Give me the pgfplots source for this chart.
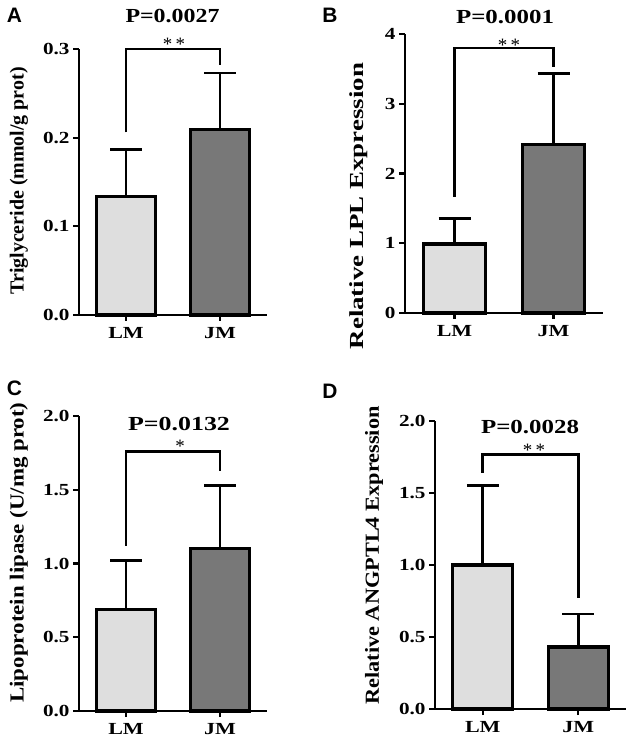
\documentclass[border=0pt]{standalone}
\usepackage{pgfplots}
\pgfplotsset{compat=1.18}
\usepackage{fontspec}
\usepackage{graphicx}
\setmainfont{Liberation Serif}
\newfontfamily\sansfont{Liberation Sans}
\definecolor{lightbar}{RGB}{222,222,222}
\definecolor{darkbar}{RGB}{120,120,120}

\pgfplotsset{
  panel/.style={
    scale only axis,
    axis lines*=left,
    axis line style={line width=2.2bp},
    xmin=-0.5, xmax=1.5, ymin=0,
    xtick={0,1},
    xticklabels={\scalebox{1.3}[1]{LM},\scalebox{1.3}[1]{JM}},
    tick align=outside,
    major tick length=6bp,
    every tick/.style={line width=2.2bp, black},
    ticklabel style={font=\fontsize{17}{17}\selectfont\bfseries},
    xticklabel style={yshift=-3bp},
    /pgf/number format/assume math mode=true,
    yticklabel={\scalebox{1.25}[1]{\pgfmathprintnumber{\tick}}},
    ylabel style={font=\fontsize{20}{20}\selectfont\bfseries, anchor=center},
    clip=false,
  },
  lmbar/.style={ybar, bar width=0.63, fill=lightbar, draw=black, line width=3.3bp,
    error bars/.cd, y dir=plus, y explicit, error mark=-,
    error bar style={line width=2.8bp, black},
    error mark options={rotate=90, line width=2.8bp, mark size=16bp, black}},
  jmbar/.style={ybar, bar width=0.63, fill=darkbar, draw=black, line width=3.3bp,
    error bars/.cd, y dir=plus, y explicit, error mark=-,
    error bar style={line width=2.8bp, black},
    error mark options={rotate=90, line width=2.8bp, mark size=16bp, black}},
  bracket/.style={black, line width=2.8bp, no markers, line join=miter},
}

\begin{document}
\begin{tikzpicture}
\useasboundingbox (0bp,0bp) rectangle (630bp,742bp);

% Panel A
\begin{axis}[panel, at={(79bp,427bp)}, anchor=south west, width=188bp, height=266bp,
  ymax=0.3, ytick={0,0.1,0.2,0.3},
  yticklabel style={/pgf/number format/.cd, fixed, fixed zerofill, precision=1},
  ylabel={Triglyceride (mmol/g prot)},
  ylabel style={at={(axis description cs:-0.319,0.504)}}]
\addplot[lmbar] coordinates {(0,0.134) +- (0,0.053)};
\addplot[jmbar] coordinates {(1,0.209) +- (0,0.064)};
\addplot[bracket] coordinates {(0,0.206) (0,0.3) (1,0.3) (1,0.282)};
\end{axis}

% Panel B
\begin{axis}[panel, at={(405bp,429bp)}, anchor=south west, width=198bp, height=279bp,
  ymax=4, ytick={0,1,2,3,4},
  yticklabel style={/pgf/number format/.cd, fixed, precision=0},
  ylabel={\scalebox{1.35}[1]{Relative LPL Expression}},
  ylabel style={at={(axis description cs:-0.232,0.383)}}]
\addplot[lmbar] coordinates {(0,0.99) +- (0,0.36)};
\addplot[jmbar] coordinates {(1,2.42) +- (0,1.01)};
\addplot[bracket] coordinates {(0,1.67) (0,3.8) (1,3.8) (1,3.53)};
\end{axis}

% Panel C
\begin{axis}[panel, at={(79bp,31bp)}, anchor=south west, width=188bp, height=295bp,
  ymax=2, ytick={0,0.5,1,1.5,2},
  yticklabel style={/pgf/number format/.cd, fixed, fixed zerofill, precision=1},
  ylabel={\scalebox{1.15}[1]{Lipoprotein lipase (U/mg prot)}},
  ylabel style={at={(axis description cs:-0.319,0.537)}}]
\addplot[lmbar] coordinates {(0,0.69) +- (0,0.33)};
\addplot[jmbar] coordinates {(1,1.10) +- (0,0.43)};
\addplot[bracket] coordinates {(0,1.12) (0,1.76) (1,1.76) (1,1.63)};
\end{axis}

% Panel D
\begin{axis}[panel, at={(435bp,33bp)}, anchor=south west, width=191bp, height=288bp,
  ymax=2, ytick={0,0.5,1,1.5,2},
  yticklabel style={/pgf/number format/.cd, fixed, fixed zerofill, precision=1},
  ylabel={\scalebox{1.12}[1]{Relative ANGPTL4 Expression}},
  ylabel style={at={(axis description cs:-0.319,0.533)}}]
\addplot[lmbar] coordinates {(0,1.0) +- (0,0.55)};
\addplot[jmbar] coordinates {(1,0.43) +- (0,0.23)};
\addplot[bracket] coordinates {(0,1.64) (0,1.77) (1,1.77) (1,0.77)};
\end{axis}

% Titles
\begin{scope}[every node/.style={inner sep=0pt, font=\fontsize{20}{20}\selectfont\bfseries}]
\node at (172.5bp,725.5bp) {\scalebox{1.2}[1]{P=0.0027}};
\node at (505bp,725bp) {\scalebox{1.25}[1]{P=0.0001}};
\node at (179bp,317.5bp) {\scalebox{1.3}[1]{P=0.0132}};
\node at (530bp,314.5bp) {\scalebox{1.25}[1]{P=0.0028}};
\end{scope}
% Stars
\begin{scope}[every node/.style={inner sep=0pt, anchor=base, font=\fontsize{19}{19}\selectfont}]
\node at (174bp,691.7bp) {*\,*};
\node at (509bp,690.7bp) {*\,*};
\node at (180bp,289.2bp) {*};
\node at (534bp,285.7bp) {*\,*};
\end{scope}
% Panel letters
\begin{scope}[every node/.style={inner sep=0pt, font=\fontsize{21}{21}\selectfont\sansfont\bfseries}]
\node at (14.5bp,726.5bp) {A};
\node at (330bp,727bp) {B};
\node at (14.5bp,353.5bp) {C};
\node at (330bp,351bp) {D};
\end{scope}
\end{tikzpicture}
\end{document}
